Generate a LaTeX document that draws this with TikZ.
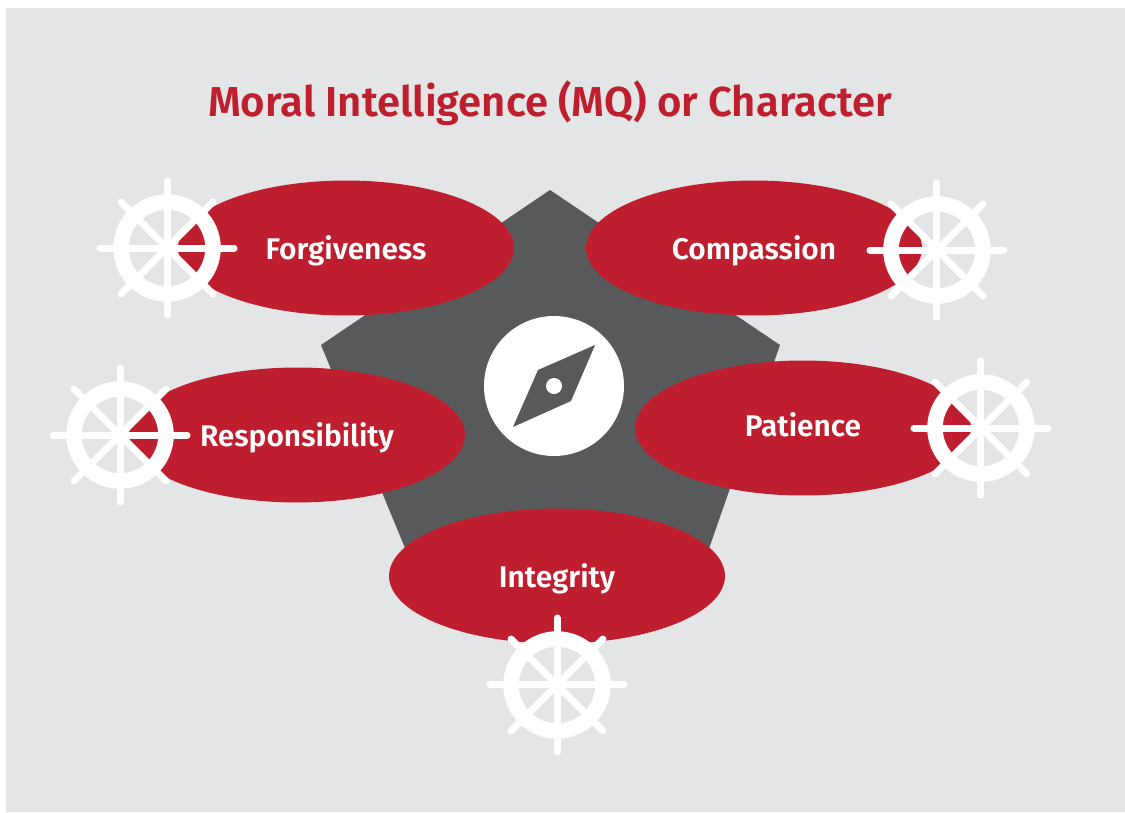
\documentclass[tikz,border=0pt]{standalone}
\usepackage{fontspec}
\setmainfont[BoldFont={Fira Sans SemiBold}]{Fira Sans}
\usepackage{xcolor}
\usetikzlibrary{positioning}
\usetikzlibrary{shapes}
\definecolor{mqred}{HTML}{BE1E2D}
\definecolor{mqgrey}{HTML}{58595B}
\definecolor{mqback}{HTML}{E4E5E7}

\begin{document}
\begin{tikzpicture}[x=0.02cm,y=-0.02cm,on grid,
    petal/.style={ellipse,fill=mqred,text=white,inner sep=0pt,outer sep=0pt,text height=0.44cm,text depth=0cm,
      minimum width=6.72cm,minimum height=2.70cm,font=\fontsize{17}{20}\selectfont\bfseries},
    wheel/.style={circle,draw=white,line width=0.31cm,inner sep=0pt,outer sep=0pt,minimum size=1.84cm},
    spoke/.style={white,line width=0.14cm,line cap=round}]
  \useasboundingbox (0,0) rectangle (1125,812);
  \fill[mqback] (6,8) rectangle (1125,812);
  \node[text=mqred,font=\fontsize{23.8}{28}\selectfont\bfseries] (title) at (550,103) {Moral Intelligence (MQ) or Character};
  \fill[mqgrey] (550,190) -- (780,345) -- (705,560) -- (410,560) -- (321,345) -- cycle;
  \node[circle,fill=white,inner sep=0pt,outer sep=0pt,minimum size=2.80cm] (compass) at (554,386) {};
  \fill[mqgrey] (595,345) -- (538,370) -- (513,427) -- (571,401) -- cycle;
  \node[circle,fill=white,inner sep=0pt,minimum size=0.32cm] (hub) at (compass) {};
  \node[petal] (forgiveness) at (346,248) {Forgiveness};
  \node[petal] (compassion) at (754,248) {Compassion};
  \node[petal] (responsibility) at (297,435) {Responsibility};
  \node[petal,text height=0.32cm] (patience) at (803,428) {Patience};
  \node[petal] (integrity) at (557,576) {Integrity};
  \node[wheel,left=3.58cm of forgiveness] (wforgiveness) {};
  \node[wheel,below right=0.04cm and 3.66cm of compassion] (wcompassion) {};
  \node[wheel,left=3.54cm of responsibility] (wresponsibility) {};
  \node[wheel,right=3.56cm of patience] (wpatience) {};
  \node[wheel,below=2.18cm of integrity] (wintegrity) {};
  \foreach \w in {wforgiveness,wcompassion,wresponsibility,wpatience,wintegrity}{
    \foreach \a in {0,90,180,270}
      \draw[spoke] (\w.center) -- ++(\a:67);
    \foreach \a in {45,135,225,315}
      \draw[spoke] (\w.center) -- ++(\a:65);
  }
\end{tikzpicture}
\end{document}
